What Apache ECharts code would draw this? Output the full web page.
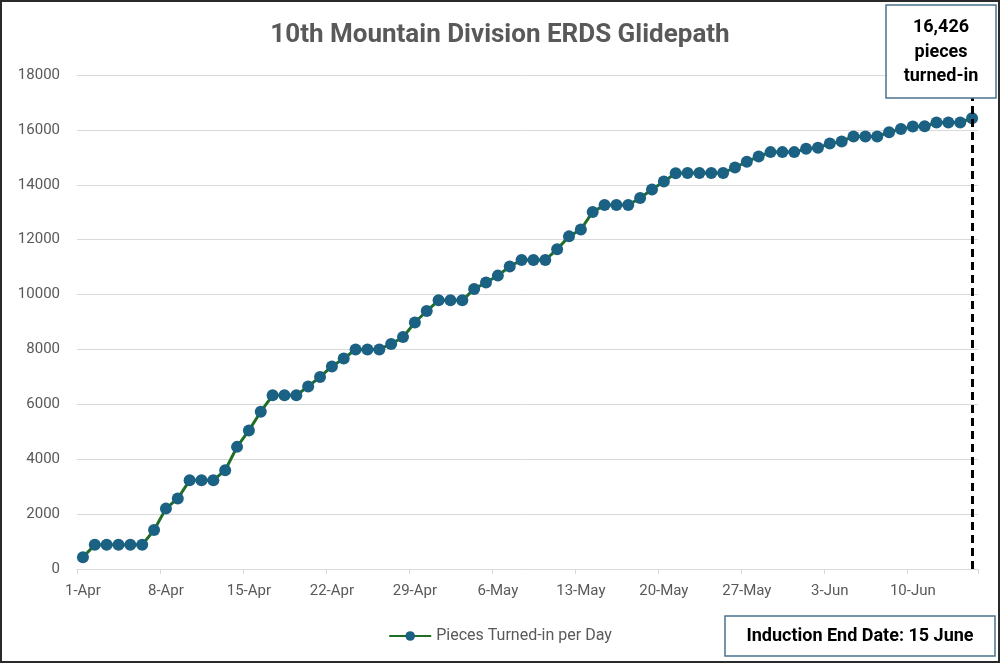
<!DOCTYPE html>
<html>
<head>
<meta charset="utf-8">
<script src="https://cdn.jsdelivr.net/npm/echarts@6/dist/echarts.min.js"></script>
<style>
html,body{margin:0;padding:0;background:#fff;}
#wrap{position:relative;width:1000px;height:663px;}
#chart{width:1000px;height:663px;}
#frame{position:absolute;left:0;top:0;width:1000px;height:663px;box-sizing:border-box;border:2px solid #2a2a2a;pointer-events:none;}
</style>
</head>
<body>
<div id="wrap"><div id="chart"></div><div id="frame"></div></div>
<script>
// Categories: daily dates 1-Apr .. 15-Jun
var months = [['Apr', 30], ['May', 31], ['Jun', 15]];
var categories = [];
months.forEach(function (m) { for (var d = 1; d <= m[1]; d++) categories.push(d + '-' + m[0]); });

// Cumulative pieces turned-in per day
var piecesTurnedIn = [
  430, 880, 880, 880, 880, 880, 1420, 2200, 2570, 3230,
  3230, 3230, 3600, 4450, 5050, 5730, 6330, 6330, 6330, 6650,
  7000, 7380, 7670, 8000, 8000, 8000, 8200, 8450, 8980, 9400,
  9790, 9790, 9790, 10200, 10440, 10690, 11020, 11260, 11260, 11260,
  11650, 12120, 12370, 13010, 13260, 13260, 13260, 13520, 13830, 14120,
  14420, 14430, 14430, 14430, 14430, 14630, 14840, 15030, 15190, 15190,
  15190, 15310, 15350, 15500, 15580, 15760, 15760, 15760, 15910, 16030,
  16120, 16130, 16270, 16270, 16270, 16426
];
var seriesName = 'Pieces Turned-in per Day';
var titleText = '10th Mountain Division ERDS Glidepath';
var totalText = ['16,426', 'pieces', 'turned-in'];
var endDateText = 'Induction End Date: 15 June';
var endDateCategory = '15-Jun';
var yTicks = { min: 0, max: 18000, interval: 2000 };

var font = 'Roboto, "Liberation Sans", sans-serif';
var chart = echarts.init(document.getElementById('chart'), null, { renderer: 'canvas' });
chart.setOption({
  backgroundColor: '#ffffff',
  animation: false,
  title: {
    text: titleText, left: 'center', top: 17,
    textStyle: { fontFamily: font, fontSize: 26, fontWeight: 'bold', color: '#595959' }
  },
  grid: { left: 77, right: 22, top: 75, bottom: 94, containLabel: false },
  legend: {
    data: [seriesName], left: 'center', top: 623,
    itemWidth: 42, itemHeight: 12, itemGap: 10,
    textStyle: { fontFamily: font, fontSize: 16, color: '#595959' }
  },
  xAxis: {
    type: 'category', data: categories, boundaryGap: true,
    axisLine: { lineStyle: { color: '#d9d9d9', width: 1 } },
    axisTick: { show: true, interval: 6, length: 5, lineStyle: { color: '#d9d9d9' } },
    axisLabel: { interval: 6, margin: 15, fontFamily: font, fontSize: 15, color: '#595959' },
    splitLine: { show: false }
  },
  yAxis: {
    type: 'value', min: yTicks.min, max: yTicks.max, interval: yTicks.interval,
    axisLine: { show: false }, axisTick: { show: false },
    axisLabel: { margin: 17, fontFamily: font, fontSize: 15, color: '#595959',
      formatter: function (v) { return String(v); } },
    splitLine: { lineStyle: { color: '#d9d9d9', width: 1 } }
  },
  series: [{
    name: seriesName, type: 'line', data: piecesTurnedIn,
    symbol: 'circle', symbolSize: 12, showSymbol: true, showAllSymbol: true,
    lineStyle: { color: '#1f6e25', width: 3 },
    itemStyle: { color: '#1b6184', borderWidth: 0 },
    markLine: {
      silent: true, symbol: ['none', 'none'], label: { show: false },
      lineStyle: { color: '#000', type: [8, 5], width: 3 },
      data: [{ xAxis: endDateCategory }]
    },
    z: 3
  }],
  graphic: [
    { type: 'rect', z: 100, shape: { x: 886, y: 5, width: 110, height: 93 },
      style: { fill: '#fff', stroke: '#4a7390', lineWidth: 1.5 } },
    { type: 'text', z: 101, x: 941, y: 27,
      style: { text: totalText[0], fontFamily: font, fontSize: 18, fontWeight: 'bold', fill: '#000', align: 'center', verticalAlign: 'middle' } },
    { type: 'text', z: 101, x: 941, y: 52,
      style: { text: totalText[1], fontFamily: font, fontSize: 18, fontWeight: 'bold', fill: '#000', align: 'center', verticalAlign: 'middle' } },
    { type: 'text', z: 101, x: 941, y: 76,
      style: { text: totalText[2], fontFamily: font, fontSize: 18, fontWeight: 'bold', fill: '#000', align: 'center', verticalAlign: 'middle' } },
    { type: 'rect', z: 100, shape: { x: 725, y: 616, width: 270, height: 40 },
      style: { fill: '#fff', stroke: '#4a7390', lineWidth: 1.5 } },
    { type: 'text', z: 101, x: 860, y: 636,
      style: { text: endDateText, fontFamily: font, fontSize: 18, fontWeight: 'bold', fill: '#000', align: 'center', verticalAlign: 'middle' } }
  ]
});
</script>
</body>
</html>
